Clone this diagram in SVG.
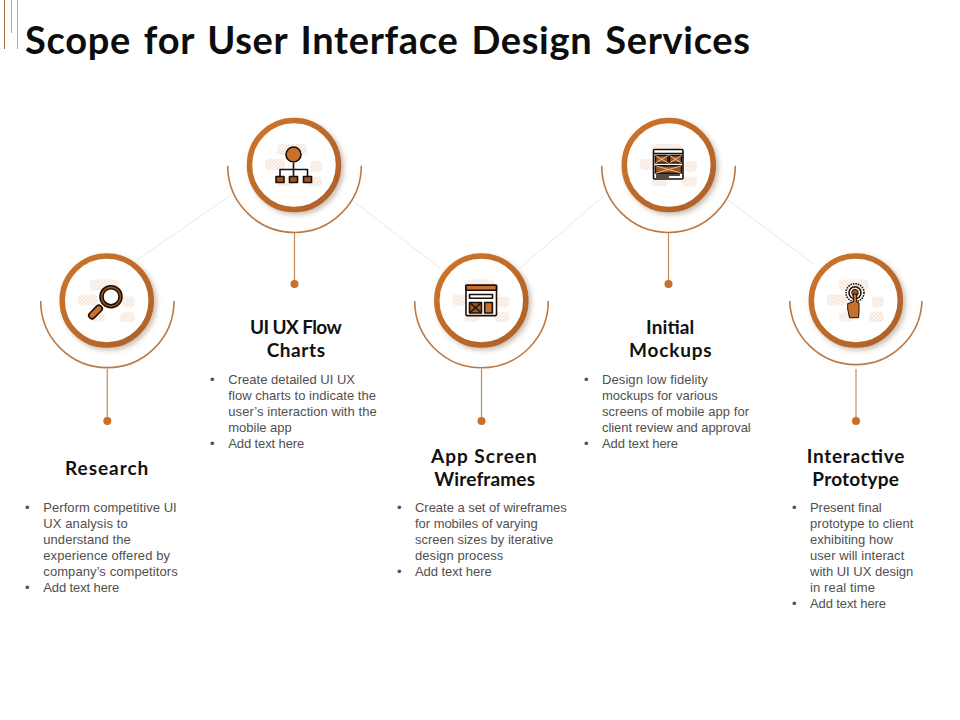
<svg xmlns="http://www.w3.org/2000/svg" width="960" height="720" viewBox="0 0 960 720">
<style>
.title{font:700 38px Lato,"Liberation Sans",sans-serif;fill:#0d0d0d;word-spacing:3px}
.head{font:700 19px Lato,"Liberation Sans",sans-serif;fill:#111}
.body{font:13px "Liberation Sans",Arial,sans-serif;fill:#505050}
.ring{fill:#fff;stroke:url(#rg);stroke-width:5.500;filter:url(#sh)}
.arc{fill:none;stroke:#bb7a45;stroke-width:1.600}
.stem{stroke:#c98a55;stroke-width:1.200}
.dot{fill:#c8702c}
.link{stroke:#ebe7e3;stroke-width:1;fill:none}
.hatch{fill:url(#ht)}
.k{stroke:#1a1008;stroke-width:1.600;stroke-linejoin:round}
.o{fill:#c8702c}
.b{fill:#a5541f}
.w{fill:#fff}
.n{fill:none}
</style>
<defs>
<linearGradient id="rg" x1="0" y1="0" x2="1" y2="1"><stop offset="0" stop-color="#cf752b"/><stop offset="1" stop-color="#ab6029"/></linearGradient>
<filter id="sh" x="-20%" y="-20%" width="145%" height="145%"><feDropShadow dx="2.500" dy="2.500" stdDeviation="2.500" flood-color="#8a6a50" flood-opacity=".45"/></filter>
<pattern id="ht" width="2.600" height="2.600" patternUnits="userSpaceOnUse" patternTransform="rotate(45)"><rect width="1.300" height="2.600" fill="#f4dfd0"/></pattern>
<g id="hatches">
<rect class="hatch" x="-17" y="-21" width="30" height="11" rx="4"/>
<rect class="hatch" x="-29" y="-6" width="20" height="11" rx="4"/>
<rect class="hatch" x="16" y="-4" width="12" height="11" rx="4"/>
<rect class="hatch" x="-17" y="12" width="15" height="9" rx="4"/>
<rect class="hatch" x="13" y="11.500" width="15" height="10" rx="4"/>
</g>
</defs>
<rect width="960" height="720" fill="#fff"/>
<g id="accent" stroke-width="1"><path stroke="#a0703a" d="M4.500 0V49"/><path stroke="#c9a877" d="M11.500 0V33"/><path stroke="#c9a877" d="M17.500 0V49"/></g>
<text class="title" x="25" y="54" textLength="725" lengthAdjust="spacing">Scope for User Interface Design Services</text>
<g id="connectors">
<path class="link" d="M137 260L231 195M352 200L440 268M520 268L605 195M728 200L815 265"/>
<path class="stem" d="M107.300 369V421M294.500 232V284M481.500 369V421M668.500 232V284M856 369V421"/>
</g>

<g id="node-research">
<path class="arc" d="M40.700 301A66.600 66.600 0 0 0 174 301"/>
<circle class="ring" cx="106.700" cy="300.500" r="44.500"/>
<use href="#hatches" x="106.700" y="300.500"/>
<circle class="dot" cx="107.300" cy="421" r="4"/>
<g transform="rotate(45 95.500 312)"><rect class="k o" x="92.250" y="304" width="6.500" height="16" rx="3"/></g>
<circle class="k b" cx="111" cy="296.700" r="11"/>
<circle class="k w" cx="111" cy="296.700" r="8"/>
<text class="head" x="65" y="475" textLength="83.300">Research</text>
<text class="body" x="25" y="511.500">•</text><text class="body" x="43.300" y="511.500" textLength="133.400">Perform competitive UI</text>
<text class="body" x="43.300" y="527.500" textLength="84.400">UX analysis to</text>
<text class="body" x="43.300" y="543.500" textLength="87.400">understand the</text>
<text class="body" x="43.300" y="559.500" textLength="126.700">experience offered by</text>
<text class="body" x="43.300" y="575.500" textLength="134.400">company’s competitors</text>
<text class="body" x="25" y="591.500">•</text><text class="body" x="43.300" y="591.500" textLength="76">Add text here</text>
</g>

<g id="node-flow">
<path class="arc" d="M227.700 165.700A66.800 66.800 0 0 0 361.300 165.700"/>
<circle class="ring" cx="294" cy="165" r="44.500"/>
<use href="#hatches" x="294" y="165"/>
<circle class="dot" cx="294.500" cy="284" r="4"/>
<path class="n k" d="M293.500 163V169M280 178V169.500H307.500V178M293.500 169.500V178"/>
<circle class="k o" cx="293.500" cy="154.500" r="7.500"/>
<rect class="k b" x="276" y="176.500" width="8" height="6"/>
<rect class="k b" x="289.500" y="176.500" width="8" height="6"/>
<rect class="k b" x="303.500" y="176.500" width="8" height="6"/>
<text class="head" x="250" y="334" textLength="91.700">UI UX Flow</text>
<text class="head" x="266.700" y="357" textLength="58.300">Charts</text>
<text class="body" x="210" y="384">•</text><text class="body" x="228.300" y="384" textLength="126.700">Create detailed UI UX</text>
<text class="body" x="228.300" y="400" textLength="147.700">flow charts to indicate the</text>
<text class="body" x="228.300" y="416" textLength="148.400">user’s interaction with the</text>
<text class="body" x="228.300" y="432" textLength="63.400">mobile app</text>
<text class="body" x="210" y="448">•</text><text class="body" x="228.300" y="448" textLength="76">Add text here</text>
</g>

<g id="node-wireframes">
<path class="arc" d="M414.700 301A66.800 66.800 0 0 0 548.300 301"/>
<circle class="ring" cx="481.300" cy="300.500" r="44.500"/>
<use href="#hatches" x="481.300" y="300.500"/>
<circle class="dot" cx="481.500" cy="421" r="4"/>
<rect class="k w" x="466" y="285.300" width="30.500" height="30.300" rx="1"/>
<path class="k o" d="M466 285.300H496.500V290.300H466Z"/>
<rect class="k w" stroke-width="1.200" x="469.500" y="294.500" width="23" height="3.700"/>
<rect class="k b" x="469.500" y="302.500" width="12" height="10.500"/>
<path class="k n" stroke-width="1" d="M469.500 302.500L481.500 313M481.500 302.500L469.500 313"/>
<rect class="k o" stroke-width="1" x="484.700" y="302.500" width="7.700" height="10.500"/>
<text class="head" x="431" y="462.700" textLength="105.700">App Screen</text>
<text class="head" x="434.300" y="485.700" textLength="100.700">Wireframes</text>
<text class="body" x="397" y="511.500">•</text><text class="body" x="415" y="511.500" textLength="151.700">Create a set of wireframes</text>
<text class="body" x="415" y="527.500" textLength="122.700">for mobiles of varying</text>
<text class="body" x="415" y="543.500" textLength="138.300">screen sizes by iterative</text>
<text class="body" x="415" y="559.500" textLength="88.300">design process</text>
<text class="body" x="397" y="575.500">•</text><text class="body" x="415" y="575.500" textLength="76.700">Add text here</text>
</g>

<g id="node-mockups">
<path class="arc" d="M601.700 165.700A66.800 66.800 0 0 0 735.300 165.700"/>
<circle class="ring" cx="668.800" cy="165" r="44.500"/>
<use href="#hatches" x="668.800" y="165"/>
<circle class="dot" cx="668.500" cy="284" r="4"/>
<rect class="k w" x="653.500" y="149.500" width="29.500" height="29.500" rx="1"/>
<path class="k n" stroke-width="1" d="M653.500 153.500H683M656 175H680M656 177H669"/>
<rect class="k b" stroke-width="1" x="655.500" y="155.500" width="12.500" height="7.500"/>
<rect class="k b" stroke-width="1" x="669.500" y="155.500" width="12" height="7.500"/>
<rect class="k b" stroke-width="1" x="655.500" y="165.700" width="26" height="7.600"/>
<path class="n" stroke="#f3d9c6" stroke-width=".8" d="M655.500 155.500L668 163M668 155.500L655.500 163M669.500 155.500L681.500 163M681.500 155.500L669.500 163M655.500 165.700L681.500 173.300M681.500 165.700L655.500 173.300"/>
<text class="head" x="646" y="334" textLength="48.300">Initial</text>
<text class="head" x="629" y="357" textLength="82.700">Mockups</text>
<text class="body" x="584" y="384">•</text><text class="body" x="602" y="384" textLength="105.700">Design low fidelity</text>
<text class="body" x="602" y="400" textLength="115.700">mockups for various</text>
<text class="body" x="602" y="416" textLength="147">screens of mobile app for</text>
<text class="body" x="602" y="432" textLength="148.700">client review  and approval</text>
<text class="body" x="584" y="448">•</text><text class="body" x="602" y="448" textLength="76">Add text here</text>
</g>

<g id="node-prototype">
<path class="arc" d="M789.700 301A66.200 66.200 0 0 0 922 301"/>
<circle class="ring" cx="855.800" cy="300.500" r="44.500"/>
<use href="#hatches" x="855.800" y="300.500"/>
<circle class="dot" cx="856" cy="421" r="4"/>
<circle class="n k" stroke-width=".8" stroke-dasharray="1.500 1" cx="855" cy="292.700" r="9"/>
<circle class="n k" stroke-width=".8" cx="855" cy="292.700" r="6"/>
<circle class="b" stroke="#1a1008" cx="855" cy="292.700" r="3.300"/>
<path class="o" stroke="#1a1008" stroke-width="1" d="M853.300 294H856.700V302L859 303V312L858.500 317.700H849.500L847.700 309V303.500L853.300 302Z"/>
<text class="head" x="806.700" y="462.700" textLength="97.600">Interactive</text>
<text class="head" x="812.300" y="485.700" textLength="86.700">Prototype</text>
<text class="body" x="792" y="511.500">•</text><text class="body" x="810" y="511.500" textLength="71.700">Present final</text>
<text class="body" x="810" y="527.500" textLength="103.300">prototype to client</text>
<text class="body" x="810" y="543.500" textLength="83">exhibiting how</text>
<text class="body" x="810" y="559.500" textLength="94.300">user will interact</text>
<text class="body" x="810" y="575.500" textLength="103.300">with UI UX design</text>
<text class="body" x="810" y="591.500" textLength="65">in real time</text>
<text class="body" x="792" y="607.500">•</text><text class="body" x="810" y="607.500" textLength="76">Add text here</text>
</g>
</svg>
